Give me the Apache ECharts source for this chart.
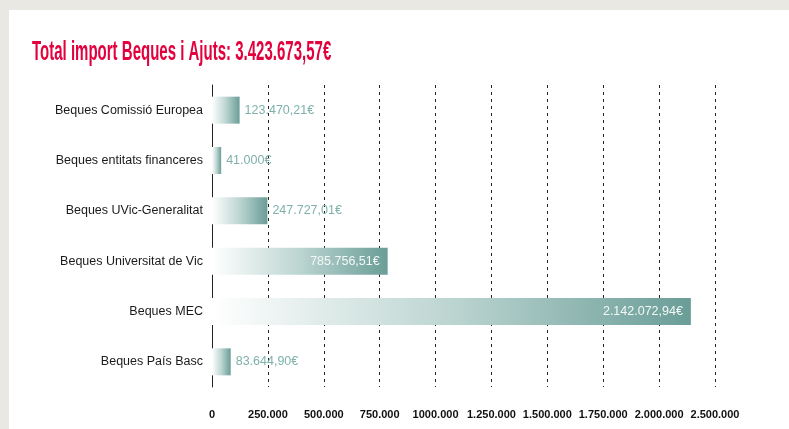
<!DOCTYPE html>
<html>
<head>
<meta charset="utf-8">
<script src="https://cdn.jsdelivr.net/npm/echarts@6/dist/echarts.min.js"></script>
<style>
    html, body {
        margin: 0;
        padding: 0;
        width: 789px;
        height: 429px;
        background: #e9e8e3;
        overflow: hidden;
    }

    #chart {
        position: absolute;
        left: 9px;
        top: 10px;
        width: 780px;
        height: 419px;
        background: #ffffff;
    }
</style>
</head>
<body>
<div id="chart"></div>
<script>
const titleText = 'Total import Beques i Ajuts: 3.423.673,57€'
const categories = [
    'Beques Comissió Europea',
    'Beques entitats financeres',
    'Beques UVic-Generalitat',
    'Beques Universitat de Vic',
    'Beques MEC',
    'Beques País Basc'
]
const amounts = [123470.21, 41000, 247727.01, 785756.51, 2142072.94, 83644.90]
const tickLabels = ['0', '250.000', '500.000', '750.000', '1000.000', '1.250.000',
    '1.500.000', '1.750.000', '2.000.000', '2.500.000']
const tickStep = 250000

// 1234567.8 -> 1.234.567,80€ (no decimals if whole number)
function euro (v) {
    const whole = Math.floor(v)
    const cents = Math.round((v - whole) * 100)
    let s = String(whole).replace(/\B(?=(\d{3})+(?!\d))/g, '.')
    if (cents) s += ',' + String(cents).padStart(2, '0')
    return s + '€'
}

const chart = echarts.init(document.getElementById('chart'))

const barData = amounts.map(v => {
    const inside = v > 500000
    return {
        value: v,
        label: {
            position: inside ? 'insideRight' : 'right',
            distance: inside ? 8 : 5,
            color: inside ? '#f4f8f7' : '#7fb1aa'
        }
    }
})

const option = {
    animation: false,
    graphic: [
        {
            type: 'text',
            x: 23,
            y: 29,
            scaleX: 0.556,
            style: {
                text: titleText,
                fill: '#e2003d',
                fontSize: 27,
                fontWeight: 'bold',
                fontFamily: 'Liberation Sans',
                verticalAlign: 'top'
            }
        }
    ],
    grid: {
        left: 203,
        right: 74,
        top: 75,
        bottom: 42
    },
    xAxis: {
        type: 'value',
        min: 0,
        max: 2250000,
        interval: tickStep,
        axisLine: {show: false},
        axisTick: {show: false},
        axisLabel: {
            margin: 22,
            fontSize: 11,
            fontWeight: 'bold',
            color: '#111',
            fontFamily: 'Liberation Sans',
            formatter: v => tickLabels[Math.round(v / tickStep)]
        },
        splitLine: {
            show: true,
            lineStyle: {
                color: '#222',
                width: 1,
                type: [3, 4]
            }
        }
    },
    yAxis: {
        type: 'category',
        inverse: true,
        data: categories,
        axisLine: {
            show: true,
            lineStyle: {color: '#222', width: 1}
        },
        axisTick: {show: false},
        axisLabel: {
            margin: 9,
            fontSize: 12.5,
            color: '#1a1a1a',
            fontFamily: 'Liberation Sans'
        }
    },
    series: [
        {
            type: 'bar',
            barWidth: 27,
            data: barData,
            itemStyle: {
                color: new echarts.graphic.LinearGradient(0, 0, 1, 0, [
                    {offset: 0, color: 'rgba(255, 255, 255, 1)'},
                    {offset: 0.5, color: '#bcd5d1'},
                    {offset: 1, color: '#6a9d97'}
                ])
            },
            label: {
                show: true,
                fontSize: 12.5,
                fontFamily: 'Liberation Sans',
                formatter: p => euro(p.value)
            }
        }
    ]
}

chart.setOption(option)
</script>
</body>
</html>
